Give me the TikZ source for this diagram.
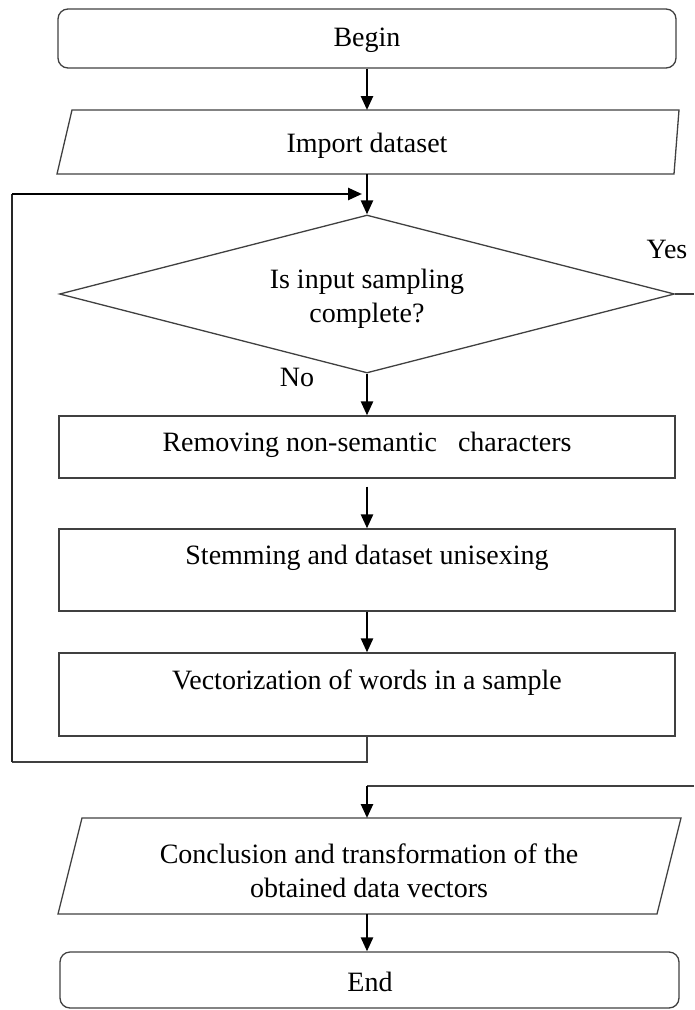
\documentclass[tikz,border=0pt]{standalone}
\usepackage{fontspec}
\setmainfont{Liberation Serif}
\usetikzlibrary{arrows.meta,shapes.geometric}
\definecolor{edgegray}{gray}{0.25}
\begin{document}
\begin{tikzpicture}[x=1pt,y=-1pt,
  frame/.style={draw=edgegray, line width=1.3pt, inner sep=0pt},
  proc/.style={frame, rectangle, minimum width=616pt},
  term/.style={frame, rectangle, rounded corners=10pt},
  slot/.style={inner sep=0pt, outer sep=0pt},
  lbl/.style={font=\fontsize{28}{33.5}\selectfont, anchor=base, align=center, inner sep=0pt},
  flow/.style={draw=black, line width=2.5pt, -{Triangle[length=14pt,width=12pt]}},
  link/.style={draw=edgegray, line width=1.3pt},
  rail/.style={draw=black!85, line width=1.7pt},
]
\useasboundingbox (0,0) rectangle (694,1010);

% start terminal
\node[term, minimum width=618pt, minimum height=59pt] (begin) at (367,38.5) {};
\node[lbl] (tbegin) at (367,46) {Begin};

% input parallelogram
\node[slot, minimum width=620pt, minimum height=64pt] (imp) at (367,142) {};
\draw[frame] ([xshift=15pt]imp.north west) -- ([xshift=2pt]imp.north east)
  -- ([xshift=-3pt]imp.south east) -- (imp.south west) -- cycle;
\node[lbl] (timp) at (367,152) {Import dataset};

% decision (base anchor sits on the last text line)
\node[frame, diamond, aspect=3.9, minimum width=615pt, minimum height=158pt] (dec) at (367,294) {};
\node[lbl] (tdec) at (367,322) {Is input sampling\\complete?};
\node[lbl] (tyes) at (667,258) {Yes};
\node[lbl] (tno) at (297,386) {No};

% processing steps
\node[proc, minimum height=62pt] (b1) at (367,447) {};
\node[lbl] (tb1) at (367,451) {Removing non-semantic\ \ \ characters};
\node[proc, minimum height=82pt] (b2) at (367,570) {};
\node[lbl] (tb2) at (367,564) {Stemming and dataset unisexing};
\node[proc, minimum height=83pt] (b3) at (367,694.5) {};
\node[lbl] (tb3) at (367,689) {Vectorization of words in a sample};

% output parallelogram
\node[slot, minimum width=614pt, minimum height=96pt] (concl) at (367,866) {};
\draw[frame] ([xshift=22pt]concl.north west) -- ([xshift=7pt]concl.north east)
  -- ([xshift=-17pt]concl.south east) -- ([xshift=-2pt]concl.south west) -- cycle;
\node[lbl] (tconcl) at (369,897) {Conclusion and transformation of the\\obtained data vectors};

% end terminal
\node[term, minimum width=619pt, minimum height=56pt] (end) at (369.5,980) {};
\node[lbl] (tend) at (370,991) {End};

% main flow
\draw[flow] (begin.south) -- (begin.south |- imp.north);
\draw[flow] (imp.south) -- (dec.north);
\draw[flow] (dec.south) -- (b1.north);
\draw[flow, shorten <=8pt] (b1.south) -- (b2.north);
\draw[flow] (b2.south) -- (b3.north);

% loop back to the decision
\coordinate (loopturn) at (367,762);
\coordinate (loopleft) at (12,762);
\coordinate (looptop) at (12,194);
\coordinate (loopjoin) at (362,194);
\draw[link] (b3.south) -- (loopturn) -- (loopleft);
\draw[rail] (loopleft) -- (looptop);
\draw[flow] (looptop) -- (loopjoin);

% "Yes" branch
\coordinate (yesout) at (694,294);
\coordinate (yesin) at (694,786);
\coordinate (yesturn) at (367,786);
\draw[link] (dec.east) -- (yesout);
\draw[link] (yesin) -- (yesturn);
\draw[flow] (yesturn) -- (concl.north);
\draw[flow] (concl.south) -- (concl.south |- end.north);
\end{tikzpicture}
\end{document}
